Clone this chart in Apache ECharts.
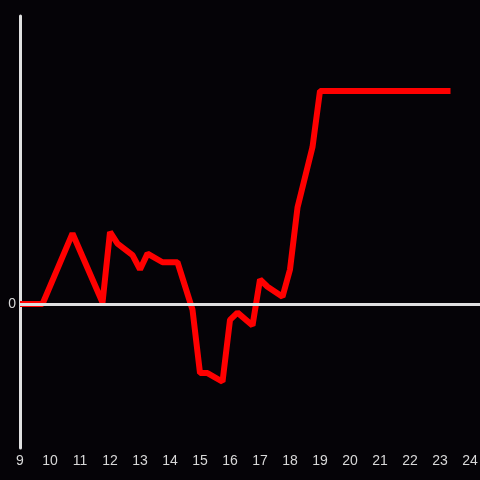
<!DOCTYPE html>
<html>
<head>
<meta charset="utf-8">
<script src="https://cdn.jsdelivr.net/npm/echarts@6/dist/echarts.min.js"></script>
<style>
  html, body { margin: 0; padding: 0; background: #050307; }
  #chart { width: 480px; height: 480px; }
</style>
</head>
<body>
<div id="chart"></div>
<script>
// hour of day (quarter-hour steps) and the running value
const hours = [9, 9.75, 10.75, 11.75, 12, 12.25, 12.75, 13, 13.25, 13.75, 14.25, 14.75,
  15, 15.25, 15.75, 16, 16.25, 16.75, 17, 17.25, 17.75, 18, 18.25, 18.75,
  19, 20, 21, 22, 23, 23.35];
const values = [0, 0, 0.49, 0.01, 0.5, 0.42, 0.34, 0.24, 0.35, 0.29, 0.29, -0.04,
  -0.48, -0.48, -0.54, -0.11, -0.06, -0.15, 0.17, 0.12, 0.05, 0.24, 0.67, 1.09,
  1.48, 1.48, 1.48, 1.48, 1.48, 1.48];
const xTicks = [9, 10, 11, 12, 13, 14, 15, 16, 17, 18, 19, 20, 21, 22, 23, 24];

const chart = echarts.init(document.getElementById('chart'));

chart.setOption({
  backgroundColor: '#050307',
  animation: false,
  grid: { left: 20, right: 0, top: 16, bottom: 32, containLabel: false, outerBoundsMode: 'none' },
  xAxis: {
    type: 'value',
    min: 9,
    max: 24.333,
    interval: 1,
    axisLine: { show: false },
    axisTick: { show: false },
    splitLine: { show: false },
    axisLabel: {
      color: '#d8d8d8',
      fontSize: 14,
      fontFamily: 'Liberation Sans',
      margin: 6,
      formatter: v => (xTicks.includes(v) ? String(v) : '')
    }
  },
  yAxis: {
    type: 'value',
    min: -1,
    max: 2,
    interval: 1,
    axisLine: { show: true, lineStyle: { color: '#e0e0e0', width: 3 } },
    axisTick: { show: false },
    splitLine: { show: false },
    axisLabel: {
      color: '#d8d8d8',
      fontSize: 14,
      fontFamily: 'Liberation Sans',
      margin: 4,
      formatter: v => (v === 0 ? '0' : '')
    }
  },
  series: [
    {
      type: 'line',
      data: [],
      z: 1,
      silent: true,
      markLine: {
        silent: true,
        symbol: 'none',
        label: { show: false },
        lineStyle: { color: '#e0e0e0', width: 3, type: 'solid' },
        data: [{ yAxis: 0 }]
      }
    },
    {
      type: 'line',
      z: 3,
      data: hours.map((h, i) => [h, values[i]]),
      showSymbol: false,
      lineStyle: { color: '#ff0000', width: 6 },
      itemStyle: { color: '#ff0000' }
    }
  ]
});
</script>
</body>
</html>
